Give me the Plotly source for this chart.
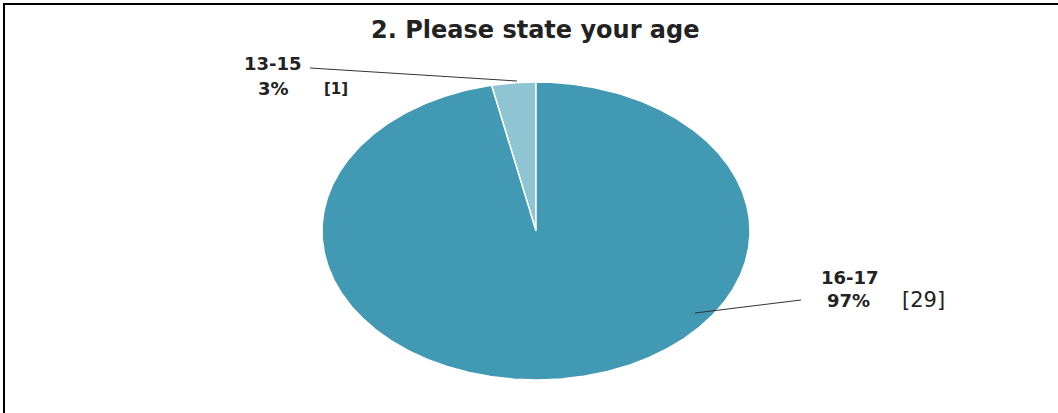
import numpy as np
import plotly.graph_objects as go

# ---- data ----
categories = ["13-15", "16-17"]
counts = [1, 29]
percent_labels = ["3%", "97%"]
count_labels = ["[1]", "[29]"]
title_text = "2. Please state your age"
colors = ["#8FC4D3", "#4299B3"]

W, H = 1058, 413
CX, CY, RX, RY = 536, 231, 214, 149


def px(x):
    return x / W


def py(y):
    return 1 - y / H


fig = go.Figure()

total = sum(counts)
start = 0.0
for cat, val, col in zip(categories, counts, colors):
    span = 360.0 * val / total
    th = np.radians(np.linspace(start, start + span, max(int(span * 2), 8)))
    xs = np.concatenate([[0], -np.sin(th), [0]])
    ys = np.concatenate([[0], np.cos(th), [0]])
    fig.add_trace(go.Scatter(
        x=xs, y=ys, mode="lines", fill="toself", fillcolor=col,
        line=dict(color="white", width=1.5), name=cat,
        hoverinfo="name", showlegend=False,
    ))
    start += span

fig.update_xaxes(range=[-1, 1], domain=[px(CX - RX), px(CX + RX)],
                 visible=False, fixedrange=True)
fig.update_yaxes(range=[-1, 1], domain=[py(CY + RY), py(CY - RY)],
                 visible=False, fixedrange=True)

bold = dict(family="DejaVu Sans", size=18, color="#222222", weight="bold")

label_pos = {
    "13-15": dict(name=(273, 63), pct=(273, 88), cnt=(336, 89), cnt_size=15,
                  line=((310, 68), (517, 81))),
    "16-17": dict(name=(850, 277), pct=(848, 300), cnt=(923, 300), cnt_size=21,
                  line=((801, 300), (695, 313))),
}

annotations = [dict(text="<b>" + title_text + "</b>", x=px(535), y=py(30),
                    xref="paper", yref="paper", showarrow=False,
                    font=dict(family="DejaVu Sans", size=24, color="#222222"),
                    xanchor="center", yanchor="middle")]
shapes = []
for cat, pct, cnt in zip(categories, percent_labels, count_labels):
    p = label_pos[cat]
    annotations.append(dict(text=cat, x=px(p["name"][0]), y=py(p["name"][1]),
                            xref="paper", yref="paper", showarrow=False,
                            font=bold, xanchor="center", yanchor="middle"))
    annotations.append(dict(text=pct, x=px(p["pct"][0]), y=py(p["pct"][1]),
                            xref="paper", yref="paper", showarrow=False,
                            font=bold, xanchor="center", yanchor="middle"))
    annotations.append(dict(text=cnt, x=px(p["cnt"][0]), y=py(p["cnt"][1]),
                            xref="paper", yref="paper", showarrow=False,
                            font=dict(family="DejaVu Sans", size=p["cnt_size"],
                                      color="#222222",
                                      weight="bold" if cat == "13-15" else "normal"),
                            xanchor="center", yanchor="middle"))
    (x0, y0), (x1, y1) = p["line"]
    shapes.append(dict(type="line", xref="paper", yref="paper",
                       x0=px(x0), y0=py(y0), x1=px(x1), y1=py(y1),
                       line=dict(color="#333333", width=1)))

# frame lines (top and left)
shapes.append(dict(type="line", xref="paper", yref="paper",
                   x0=px(3), y0=py(4), x1=1, y1=py(4),
                   line=dict(color="#000000", width=2)))
shapes.append(dict(type="line", xref="paper", yref="paper",
                   x0=px(4), y0=py(4), x1=px(4), y1=py(413),
                   line=dict(color="#000000", width=2)))

fig.update_layout(
    width=W, height=H, margin=dict(l=0, r=0, t=0, b=0),
    paper_bgcolor="white", plot_bgcolor="white",
    annotations=annotations, shapes=shapes, showlegend=False,
)

fig.write_html("out.html", config={"displayModeBar": False})
